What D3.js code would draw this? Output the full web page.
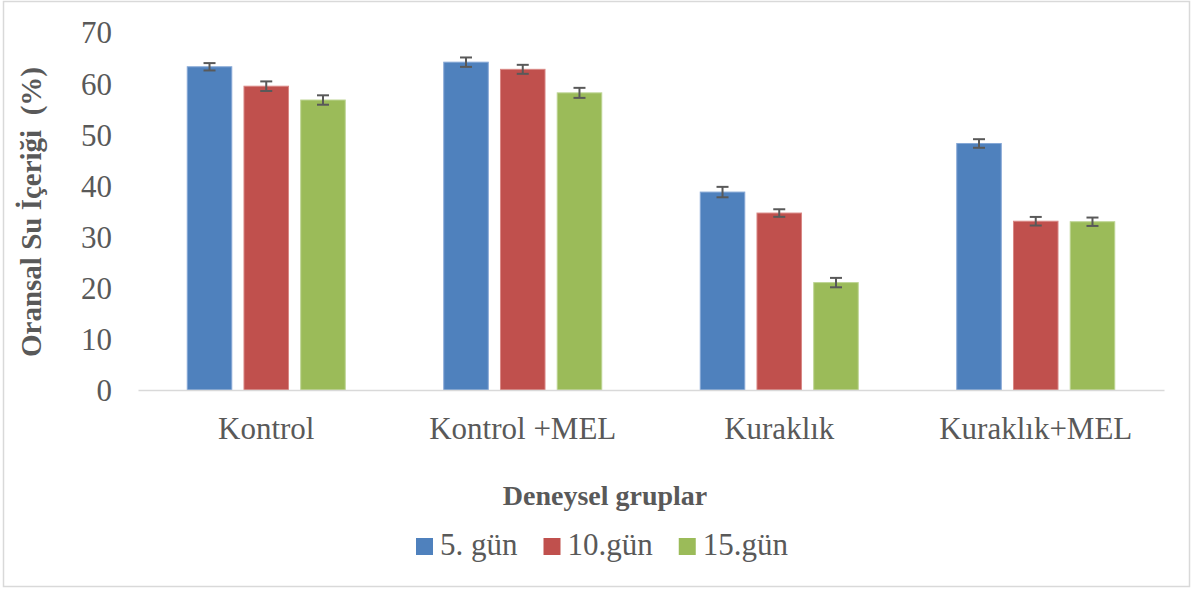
<!DOCTYPE html>
<html>
<head>
<meta charset="utf-8">
<script src="https://cdn.jsdelivr.net/npm/d3@7"></script>
<style>
  html, body { margin: 0; padding: 0; background: #fff; }
  svg { display: block; }
  text { font-family: "Liberation Serif", "Times New Roman", serif; }
</style>
</head>
<body>
<svg id="chart" width="1193" height="590"></svg>
<script>
const categories = ["Kontrol", "Kontrol +MEL", "Kuraklık", "Kuraklık+MEL"];
const seriesNames = ["5. gün", "10.gün", "15.gün"];
const day5 = [63.2, 64.1, 38.7, 48.2];
const day10 = [59.4, 62.7, 34.6, 33.0];
const day15 = [56.7, 58.1, 21.0, 32.9];
const err5 = [0.72, 0.92, 1.02, 0.84];
const err10 = [0.94, 0.88, 0.74, 0.84];
const err15 = [0.92, 0.98, 0.92, 0.82];
const yTicks = [0, 10, 20, 30, 40, 50, 60, 70];
const colors = ["#4f81bd", "#c0504d", "#9bbb59"];
const strokes = ["#86a8d6", "#d98885", "#bdd492"];
const yTitle = "Oransal Su İçeriği  (%)";
const xTitle = "Deneysel gruplar";

const seriesVals = [day5, day10, day15];
const seriesErr = [err5, err10, err15];

const svg = d3.select("#chart");
const FONT = '"Liberation Serif", "Times New Roman", serif';

// outer border
svg.append("rect")
  .attr("x", 3.5).attr("y", 1.5)
  .attr("width", 1186).attr("height", 585)
  .attr("fill", "#fff").attr("stroke", "#d9d9d9").attr("stroke-width", 1.5);

const plot = { left: 138, right: 1164, top: 32, bottom: 390 };

const x0 = d3.scaleBand().domain(categories).range([plot.left, plot.right]).paddingInner(0).paddingOuter(0);
const groupWidth = 158;
const x1 = d3.scaleBand().domain(d3.range(seriesNames.length))
  .range([-groupWidth / 2, groupWidth / 2]).paddingInner(0.215).paddingOuter(0);
const y = d3.scaleLinear().domain([0, 70]).range([plot.bottom, plot.top]);

const data = [];
categories.forEach((c, i) => {
  seriesNames.forEach((s, j) => {
    data.push({ cat: c, s: j, v: seriesVals[j][i], e: seriesErr[j][i] });
  });
});

const g = svg.append("g");
g.selectAll("rect.bar").data(data).enter().append("rect")
  .attr("class", "bar")
  .attr("x", d => x0(d.cat) + x0.bandwidth() / 2 + x1(d.s))
  .attr("width", x1.bandwidth())
  .attr("y", d => y(d.v))
  .attr("height", d => y(0) - y(d.v))
  .attr("fill", d => colors[d.s])
  .attr("stroke", d => strokes[d.s])
  .attr("stroke-width", 1);

// x axis
const xAxis = d3.axisBottom(x0).tickSize(0).tickPadding(0);
const xg = svg.append("g").attr("transform", `translate(0,${plot.bottom})`).call(xAxis);
xg.attr("font-family", FONT);
xg.select(".domain").attr("stroke", "#d9d9d9").attr("stroke-width", 1.5);
xg.selectAll(".tick text")
  .attr("y", 49).attr("dy", 0)
  .attr("fill", "#595959")
  .style("font-size", "31px")
  .style("font-family", FONT);

// y axis (labels only)
const yAxis = d3.axisLeft(y).tickValues(yTicks).tickSize(0).tickPadding(0).tickFormat(d3.format("d"));
const yg = svg.append("g").attr("transform", `translate(112,0)`).call(yAxis);
yg.attr("font-family", FONT);
yg.select(".domain").remove();
yg.selectAll(".tick text")
  .attr("x", 0).attr("dy", "0.35em")
  .attr("fill", "#595959")
  .style("font-size", "31px")
  .style("font-family", FONT);

// error bars
const eg = svg.append("g").attr("stroke", "#595959").attr("stroke-width", 2).attr("fill", "none");
data.forEach(d => {
  const cx = x0(d.cat) + x0.bandwidth() / 2 + x1(d.s) + x1.bandwidth() / 2;
  const yt = y(d.v + d.e), yb = y(d.v - d.e);
  eg.append("line").attr("x1", cx).attr("x2", cx).attr("y1", yt).attr("y2", yb);
  eg.append("line").attr("x1", cx - 6).attr("x2", cx + 6).attr("y1", yt).attr("y2", yt);
  eg.append("line").attr("x1", cx - 6).attr("x2", cx + 6).attr("y1", yb).attr("y2", yb);
});

// axis titles
svg.append("text")
  .attr("transform", "translate(41,212) rotate(-90)")
  .attr("text-anchor", "middle")
  .attr("fill", "#595959")
  .style("white-space", "pre")
  .attr("xml:space", "preserve")
  .style("font-size", "29px").style("font-weight", "bold")
  .text(yTitle);

svg.append("text")
  .attr("x", 605).attr("y", 505)
  .attr("text-anchor", "middle")
  .attr("fill", "#595959")
  .style("font-size", "28px").style("font-weight", "bold")
  .text(xTitle);

// legend
const lg = svg.append("g");
const items = lg.selectAll("g.item").data(seriesNames).enter().append("g").attr("class", "item");
items.append("rect").attr("width", 17).attr("height", 17).attr("y", 538)
  .attr("fill", (d, i) => colors[i]);
items.append("text").attr("y", 555).attr("x", 24)
  .attr("fill", "#595959")
  .style("font-size", "31px")
  .style("font-family", FONT)
  .text(d => d);
let offs = [], cur = 0;
items.each(function (d, i) {
  const w = 24 + d3.select(this).select("text").node().getComputedTextLength();
  offs.push(cur);
  cur += w + (i < seriesNames.length - 1 ? 26 : 0);
});
const startX = 602 - cur / 2;
items.attr("transform", (d, i) => `translate(${startX + offs[i]},0)`);
</script>
</body>
</html>
